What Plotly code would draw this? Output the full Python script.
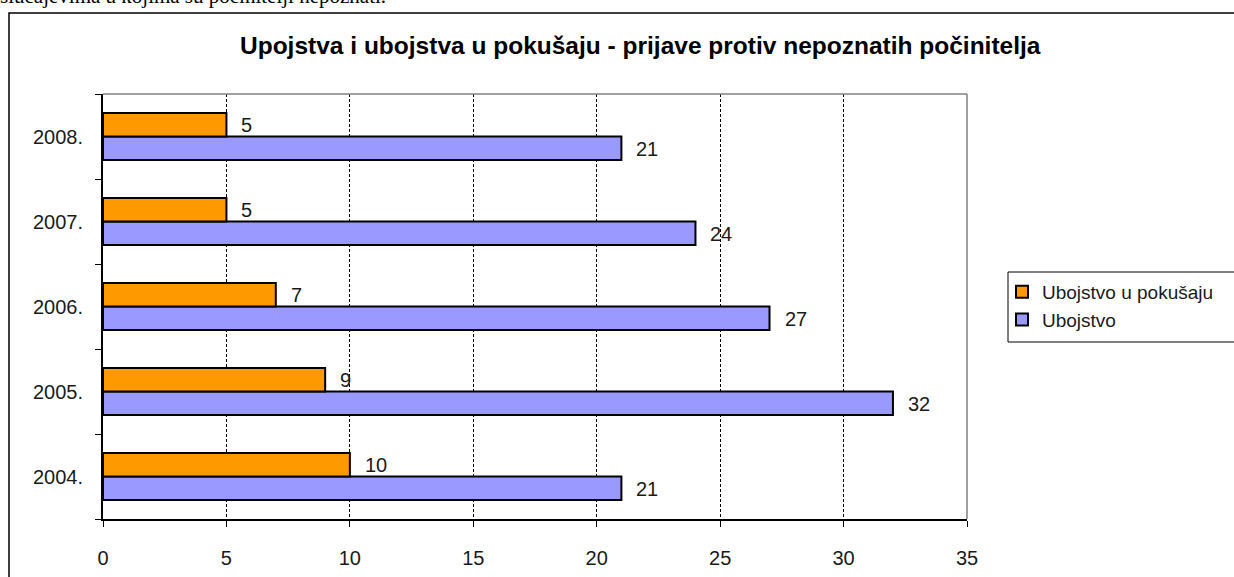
import plotly.graph_objects as go

categories = ["2004.", "2005.", "2006.", "2007.", "2008."]
ubojstvo = [21, 32, 27, 24, 21]
ubojstvo_pokusaj = [10, 9, 7, 5, 5]
x_ticks = [0, 5, 10, 15, 20, 25, 30, 35]

title_text = "Upojstva i ubojstva u pokušaju - prijave protiv nepoznatih počinitelja"
top_text = "slučajevima u kojima su počinitelji nepoznati."

W, H = 1234, 577
ML, MR, MT, MB = 103, 267, 94, 58
PW, PH = W - ML - MR, H - MT - MB


def px_x(p):
    return (p - ML) / PW


def px_y(p):
    return (H - MB - p) / PH


FONT = "Liberation Sans, Arial, sans-serif"

fig = go.Figure()
fig.add_trace(go.Bar(
    y=categories, x=ubojstvo, orientation="h", name="Ubojstvo",
    marker=dict(color="#9999FF", line=dict(color="black", width=2)),
    legendgroup="b", hoverinfo="x",
))
fig.add_trace(go.Bar(
    y=categories, x=ubojstvo_pokusaj, orientation="h", name="Ubojstvo u pokušaju",
    marker=dict(color="#FF9900", line=dict(color="black", width=2)),
    legendgroup="a", hoverinfo="x",
))

annotations = []
for i, v in enumerate(ubojstvo_pokusaj):
    annotations.append(dict(x=v, y=i, xref="x", yref="y", text=str(v), showarrow=False,
                            xanchor="left", yanchor="middle", xshift=13, yshift=12,
                            font=dict(family=FONT, size=20, color="#1a1a1a")))
for i, v in enumerate(ubojstvo):
    annotations.append(dict(x=v, y=i, xref="x", yref="y", text=str(v), showarrow=False,
                            xanchor="left", yanchor="middle", xshift=13, yshift=-12,
                            font=dict(family=FONT, size=20, color="#1a1a1a")))

annotations.append(dict(x=px_x(640), y=px_y(45), xref="paper", yref="paper", text="<b>" + title_text + "</b>",
                        showarrow=False, xanchor="center", yanchor="middle",
                        font=dict(family=FONT, size=24.5, color="black")))
annotations.append(dict(x=px_x(0), y=px_y(-4), xref="paper", yref="paper", text=top_text,
                        showarrow=False, xanchor="left", yanchor="middle", xshift=-2,
                        font=dict(family="Liberation Serif, Times New Roman, serif", size=21, color="black")))

shapes = [
    # outer chart border
    dict(type="rect", xref="paper", yref="paper", x0=px_x(9), x1=px_x(1250), y0=px_y(600), y1=px_y(13),
         line=dict(color="black", width=1.5), fillcolor="rgba(0,0,0,0)", layer="below"),
    # legend box (extends past the right edge)
    dict(type="rect", xref="paper", yref="paper", x0=px_x(1008), x1=px_x(1260), y0=px_y(342), y1=px_y(272),
         line=dict(color="black", width=1), fillcolor="white", layer="below"),
    # plot area top and right border (gray)
    dict(type="line", xref="paper", yref="paper", x0=0, x1=1, y0=1, y1=1, line=dict(color="#808080", width=1.5)),
    dict(type="line", xref="paper", yref="paper", x0=1, x1=1, y0=0, y1=1, line=dict(color="#808080", width=1.5)),
]

fig.update_layout(
    width=W, height=H,
    margin=dict(l=ML, r=MR, t=MT, b=MB, autoexpand=False),
    paper_bgcolor="white", plot_bgcolor="white",
    barmode="group", bargap=0.447, bargroupgap=0,
    showlegend=True,
    legend=dict(x=px_x(1002), y=px_y(273), xanchor="left", yanchor="top",
                borderwidth=0, bgcolor="rgba(0,0,0,0)",
                traceorder="reversed", tracegroupgap=10,
                font=dict(family=FONT, size=19, color="#1a1a1a"), itemwidth=30),
    xaxis=dict(range=[0, 35], tickvals=x_ticks, ticktext=[str(t) for t in x_ticks],
               showgrid=True, gridcolor="black", griddash="3px,2px", gridwidth=1,
               zeroline=False, showline=True, linecolor="black", linewidth=2,
               ticks="outside", ticklen=6, tickcolor="black", tickwidth=1,
               ticklabelstandoff=14,
               tickfont=dict(family=FONT, size=20, color="#1a1a1a"), fixedrange=True),
    yaxis=dict(type="category", categoryorder="array", categoryarray=categories,
               range=[-0.5, len(categories) - 0.5],
               showgrid=False, zeroline=False, showline=True, linecolor="black", linewidth=2,
               ticks="outside", ticklen=6, tickcolor="black", tickwidth=1, tickson="boundaries",
               ticklabelstandoff=14,
               tickfont=dict(family=FONT, size=20, color="#1a1a1a"), fixedrange=True),
    annotations=annotations,
    shapes=shapes,
)

fig.write_html("out.html", config={"displayModeBar": False},
               post_script="document.body.style.margin='0';document.body.style.overflow='hidden';")
